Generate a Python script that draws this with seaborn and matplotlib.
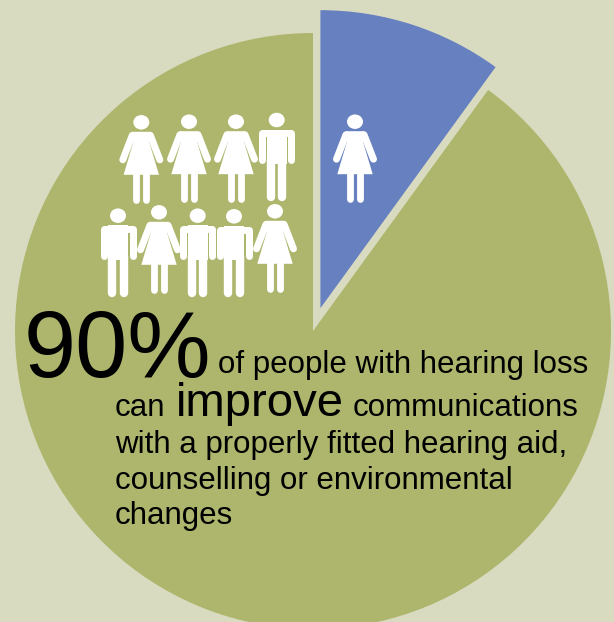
import matplotlib
matplotlib.use("Agg")
import matplotlib.pyplot as plt
import seaborn as sns
from matplotlib.patches import Ellipse, Polygon

# Share of people with hearing loss, by whether they can improve communications
segments = ["cannot improve", "can improve"]
shares = [10, 90]

BACKGROUND = "#D9DBC0"
WEDGE_COLORS = ["#6680C0", "#ADB66C"]
INK = "#000000"
ICON = "#FFFFFF"

# Pictogram row: (figure type, head x, head y), measured in pixels from the top left
people = [
    ("woman", 141.3, 122.3), ("woman", 189, 121.7), ("woman", 236, 121.7), ("man", 276.7, 120),
    ("man", 118, 215.7), ("woman", 159, 212.3), ("man", 197.7, 215.7), ("man", 234, 216.3),
    ("woman", 275, 211.3),
    ("woman", 355, 121.7),
]

sns.set_theme(style="white")
plt.rcParams["font.family"] = ["Liberation Sans", "DejaVu Sans"]

W, H = 614, 622
fig = plt.figure(figsize=(W / 100, H / 100), dpi=100, facecolor=BACKGROUND)
ax = fig.add_axes([0, 0, 1, 1])

ax.pie(
    shares,
    colors=sns.color_palette(WEDGE_COLORS),
    startangle=90,
    counterclock=False,
    radius=298,
    center=(313, H - 331),
    explode=[24, 0],
    wedgeprops={"linewidth": 0},
    frame=True,
)
ax.set_xlim(0, W)
ax.set_ylim(0, H)
ax.set_aspect("equal")
ax.axis("off")


def flip(points, hx, hy):
    return [(hx + x, H - (hy + y)) for x, y in points]


def stroke(points, hx, hy, width):
    xs, ys = zip(*flip(points, hx, hy))
    ax.plot(xs, ys, color=ICON, lw=width * 0.72, solid_capstyle="round",
            solid_joinstyle="round", zorder=3)


def draw_head(hx, hy):
    ax.add_patch(Ellipse((hx, H - hy), 16, 14.5, color=ICON, lw=0, zorder=3))


def draw_woman(hx, hy):
    draw_head(hx, hy)
    ax.add_patch(Polygon(flip([(-9, 9.5), (9, 9.5), (8, 20), (17.7, 52.5), (-17.7, 52.5), (-8, 20)], hx, hy),
                         color=ICON, lw=0, zorder=3))
    for side in (-1, 1):
        stroke([(side * 9, 13), (side * 18.5, 37.5)], hx, hy, 7)
        stroke([(side * 5, 52), (side * 5, 77.5)], hx, hy, 6.8)


def draw_man(hx, hy):
    draw_head(hx, hy)
    ax.add_patch(Polygon(flip([(-10, 9.5), (10, 9.5), (10, 44), (-10, 44)], hx, hy), color=ICON, lw=0, zorder=3))
    for side in (-1, 1):
        stroke([(side * 8, 13.2), (side * 14.5, 13.2), (side * 14.5, 40)], hx, hy, 7)
        stroke([(side * 5.6, 40), (side * 5.6, 77)], hx, hy, 8.4)


for kind, hx, hy in people:
    (draw_woman if kind == "woman" else draw_man)(hx, hy)

# Caption lines, set by baseline
captions = [
    ("90%", 24, 377, 67.5),
    ("of people with hearing loss", 218, 373, 22.5),
    ("can", 115, 416, 22.5),
    ("improve", 176, 416, 34),
    ("communications", 353, 416, 22.5),
    ("with a properly fitted hearing aid,", 115, 453, 22.5),
    ("counselling or environmental", 115, 489, 22.5),
    ("changes", 115, 524, 22.5),
]
for text, x, y, size in captions:
    ax.text(x, H - y, text, fontsize=size, color=INK, ha="left", va="baseline", zorder=4)

fig.savefig("out.png", dpi=100, facecolor=BACKGROUND)
